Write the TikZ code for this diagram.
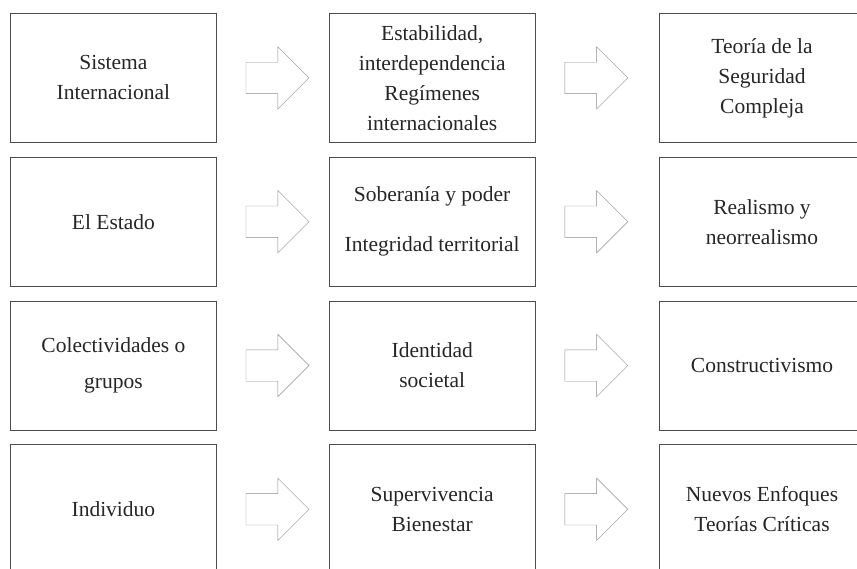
\documentclass[tikz,border=0pt]{standalone}
\usepackage{fontspec}
\setmainfont{Liberation Serif}
\usetikzlibrary{positioning,shapes.arrows}

\begin{document}
\begin{tikzpicture}[x=1pt,y=-1pt,node distance=14pt and 112pt]
	\tikzstyle{every node}=[font=\fontsize{21.5}{30}\selectfont,text=black!85]
	\tikzstyle{box}=[draw=black!70,line width=0.8pt,minimum width=206pt,minimum height=129pt,align=center,inner sep=0pt]
	\tikzstyle{fwd}=[draw=black!45,line width=0.4pt,single arrow,minimum height=63pt,minimum width=62pt,single arrow head extend=15.5pt,inner xsep=0pt,inner ysep=15.5pt,anchor=west]

	\useasboundingbox (0,0) rectangle (857,568);
	\clip (0,0) rectangle (857,568);

	% levels
	\node[box,anchor=north west] (S1) at (10,13) {Sistema\\Internacional};
	\node[box,below=of S1] (S2) {El Estado};
	\node[box,below=of S2] (S3) {Colectividades o\\[6pt]grupos};
	\node[box,below=of S3] (S4) {Individuo};

	% referents
	\node[box,right=of S1] (E1) {Estabilidad,\\interdependencia\\Regímenes\\internacionales};
	\node[box,right=of S2] (E2) {Soberanía y poder\\[20pt]Integridad territorial};
	\node[box,right=of S3] (E3) {Identidad\\societal};
	\node[box,right=of S4] (E4) {Supervivencia\\Bienestar};

	% theories
	\node[box,right=123pt of E1] (T1) {Teoría de la\\Seguridad\\Compleja};
	\node[box,right=123pt of E2] (T2) {Realismo y\\neorrealismo};
	\node[box,right=123pt of E3] (T3) {Constructivismo};
	\node[box,right=123pt of E4] (T4) {Nuevos Enfoques\\Teorías Críticas};

	% block arrows
	\foreach \r in {1,...,4}{
		\node[fwd,right=29pt of S\r] (a\r) {};
		\node[fwd,right=29pt of E\r] (b\r) {};
	}
\end{tikzpicture}
\end{document}
